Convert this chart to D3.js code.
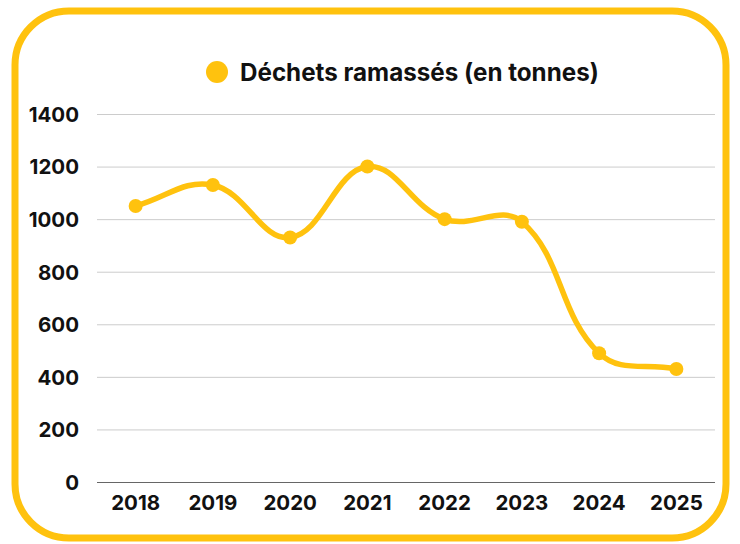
<!DOCTYPE html>
<html>
<head>
<meta charset="utf-8">
<script src="https://cdn.jsdelivr.net/npm/d3@7"></script>
<style>
  body { margin: 0; background: #fff; }
  svg text { font-family: Inter, "Open Sans", sans-serif; font-weight: 700; fill: #111; }
</style>
</head>
<body>
<svg id="chart" width="740" height="544"></svg>
<script>
const years = ["2018", "2019", "2020", "2021", "2022", "2023", "2024", "2025"];
const dechets = [1050, 1130, 930, 1200, 1000, 990, 490, 430];
const yTicks = [0, 200, 400, 600, 800, 1000, 1200, 1400];
const seriesLabel = "Déchets ramassés (en tonnes)";

const yellow = "#FFC20E";
const svg = d3.select("#chart");

// rounded frame
svg.append("rect")
    .attr("x", 15).attr("y", 11)
    .attr("width", 711).attr("height", 527)
    .attr("rx", 54).attr("ry", 54)
    .attr("fill", "#fff")
    .attr("stroke", yellow)
    .attr("stroke-width", 7);

const plot = { left: 97, right: 715, top: 114, bottom: 482 };

const x = d3.scaleBand()
    .domain(years)
    .range([plot.left, plot.right]);
const y = d3.scaleLinear()
    .domain([0, 1400])
    .range([plot.bottom, plot.top]);

/* grid */
const grid = svg.append("g").attr("class", "grid");
grid.selectAll("line").data(yTicks).enter()
  .append("line")
    .attr("x1", plot.left).attr("x2", plot.right)
    .attr("y1", d => y(d) + 0.5).attr("y2", d => y(d) + 0.5)
    .attr("stroke", d => d === 0 ? "#666" : "#ccc")
    .attr("stroke-width", 1);

/* y axis labels */
const yAxis = svg.append("g")
    .attr("transform", `translate(79,0)`)
    .call(d3.axisLeft(y).tickValues(yTicks).tickSize(0).tickPadding(0).tickFormat(d3.format("d")));
yAxis.select(".domain").remove();
yAxis.selectAll("text")
    .attr("font-size", 20.5)
    .attr("dy", "0.36em")
    .attr("fill", "#111");

/* x axis labels */
const xAxis = svg.append("g")
    .attr("transform", `translate(0,${plot.bottom + 13})`)
    .call(d3.axisBottom(x).tickSize(0).tickPadding(0));
xAxis.select(".domain").remove();
xAxis.selectAll("text")
    .attr("font-size", 20.5)
    .attr("fill", "#111");

/* line, spline with tension 0.4 weighted by segment length */
const pts = years.map((yr, i) => ({ year: yr, value: dechets[i],
  px: x(yr) + x.bandwidth() / 2, py: y(dechets[i]) }));

function splinePath(p, t) {
  const ctrl = p.map((m, i) => {
    const a = p[Math.max(i - 1, 0)], b = p[Math.min(i + 1, p.length - 1)];
    const d01 = Math.hypot(m.px - a.px, m.py - a.py);
    const d12 = Math.hypot(b.px - m.px, b.py - m.py);
    const s01 = d01 / (d01 + d12 || 1), s12 = d12 / (d01 + d12 || 1);
    return {
      inX: m.px - t * s01 * (b.px - a.px), inY: m.py - t * s01 * (b.py - a.py),
      outX: m.px + t * s12 * (b.px - a.px), outY: m.py + t * s12 * (b.py - a.py)
    };
  });
  const path = d3.path();
  path.moveTo(p[0].px, p[0].py);
  for (let i = 1; i < p.length; i++) {
    path.bezierCurveTo(ctrl[i - 1].outX, ctrl[i - 1].outY, ctrl[i].inX, ctrl[i].inY, p[i].px, p[i].py);
  }
  return path.toString();
}

svg.append("path")
    .datum(pts)
    .attr("fill", "none")
    .attr("stroke", yellow)
    .attr("stroke-width", 5.5)
    .attr("stroke-linejoin", "round")
    .attr("d", d => splinePath(d, 0.4));

svg.selectAll(".pt").data(pts).enter()
  .append("circle")
    .attr("class", "pt")
    .attr("cx", d => d.px)
    .attr("cy", d => d.py)
    .attr("r", 7)
    .attr("fill", yellow);

/* legend */
const legend = svg.append("g").attr("transform", "translate(217,72)");
legend.append("circle").attr("r", 11).attr("fill", yellow);
legend.append("text")
    .attr("x", 23).attr("dy", "0.36em")
    .attr("font-size", 24.2)
    .text(seriesLabel);
</script>
</body>
</html>
